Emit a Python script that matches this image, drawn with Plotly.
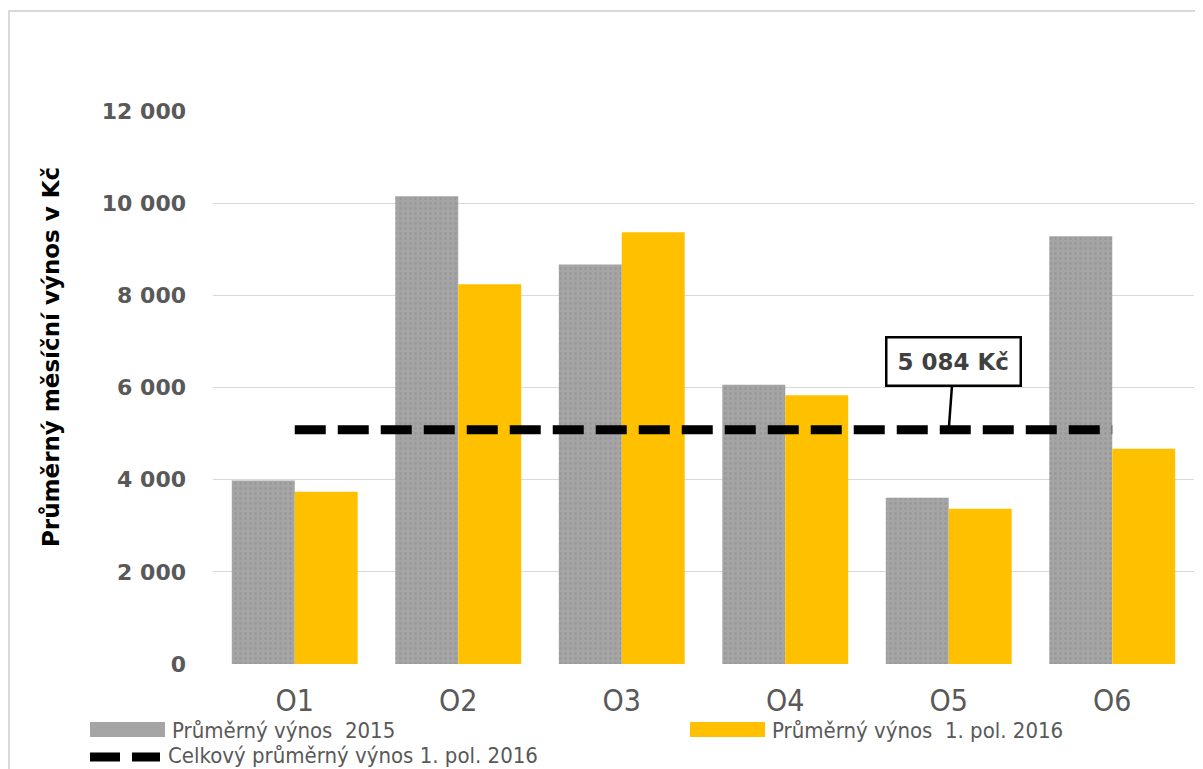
import plotly.graph_objects as go

# data
categories = ["O1", "O2", "O3", "O4", "O5", "O6"]
vynos_2015 = [3980, 10150, 8670, 6060, 3610, 9280]
vynos_2016 = [3740, 8240, 9370, 5830, 3370, 4670]
celkovy_prumer = 5084
y_ticks = [0, 2000, 4000, 6000, 8000, 10000, 12000]

name_2015 = "Průměrný výnos  2015"
name_2016 = "Průměrný výnos  1. pol. 2016"
name_avg = "Celkový průměrný výnos 1. pol. 2016"
y_title = "Průměrný měsíční výnos v Kč"

# the html page puts the figure 8px in from the top-left corner,
# so the figure is made 8px smaller and the margins shifted by the same amount
OFF = 8
PL, PR, PT, PB = 213, 1194, 111, 664   # plot area in page pixels
W, H = 1203 - OFF, 769 - OFF
ML, MT = PL - OFF, PT - OFF
MR, MB = W - (PR - OFF), H - (PB - OFF)
PW, PH = PR - PL, PB - PT

GRAY = "#a5a5a5"
YELLOW = "#ffc000"
TXT = "#595959"
NARROW = "Liberation Sans Narrow, DejaVu Sans Condensed, Arial Narrow, sans-serif"


def px(x):
    return (x - PL) / PW


def py(y):
    return (PB - y) / PH


fig = go.Figure()

fig.add_trace(go.Bar(
    x=categories, y=vynos_2015, name=name_2015,
    marker=dict(color=GRAY, line_width=0,
                pattern=dict(shape=".", fillmode="overlay", fgcolor="#8c8c8c",
                             size=5, solidity=0.25)),
))
fig.add_trace(go.Bar(
    x=categories, y=vynos_2016, name=name_2016,
    marker=dict(color=YELLOW, line_width=0),
))
fig.add_trace(go.Scatter(
    x=categories, y=[celkovy_prumer] * len(categories), name=name_avg,
    mode="lines", line=dict(color="black", width=9, dash="31px,12px"),
))

fig.update_layout(
    width=W, height=H,
    margin=dict(l=ML, r=MR, t=MT, b=MB),
    plot_bgcolor="white", paper_bgcolor="white",
    barmode="group", bargap=0.23, bargroupgap=0,
    showlegend=False,
    separators=", ",
    xaxis=dict(
        showgrid=False, showline=False, ticks="",
        tickfont=dict(family=NARROW, size=30, color=TXT),
        ticklabelstandoff=16,
    ),
    yaxis=dict(
        range=[0, 12000], tickvals=y_ticks, tickformat=",d",
        showgrid=True, gridcolor="#d9d9d9", gridwidth=1,
        zeroline=False, showline=False, ticks="",
        tickfont=dict(family="DejaVu Sans", size=22, color=TXT, weight="bold"),
        ticklabelstandoff=26,
    ),
)

# outer frame of the chart area
fig.add_shape(type="rect", xref="paper", yref="paper",
              x0=px(9), x1=px(1215), y0=py(11), y1=py(800),
              line=dict(color="#d9d9d9", width=2), fillcolor="rgba(0,0,0,0)",
              layer="below")

# y axis title
fig.add_annotation(
    text=y_title, xref="paper", yref="paper", x=px(51), y=py(357),
    xanchor="center", yanchor="middle",
    textangle=-90, showarrow=False,
    font=dict(family="DejaVu Sans", size=23, color="black", weight="bold"),
)

# label for overall average
fig.add_annotation(
    x="O5", y=celkovy_prumer, ax=5, ay=-68,
    text="5 084 Kč", showarrow=True, arrowhead=0, arrowwidth=2.5,
    arrowcolor="black", bordercolor="black", borderwidth=2.5, borderpad=10,
    bgcolor="white",
    font=dict(family="DejaVu Sans", size=23, color="#404040", weight="bold"),
)

# legend drawn by hand (wide swatches like the original)
fig.add_shape(type="rect", xref="paper", yref="paper",
              x0=px(90), x1=px(165), y0=py(737), y1=py(722),
              fillcolor=GRAY, line_width=0)
fig.add_shape(type="rect", xref="paper", yref="paper",
              x0=px(690), x1=px(765), y0=py(737), y1=py(722),
              fillcolor=YELLOW, line_width=0)
fig.add_shape(type="line", xref="paper", yref="paper",
              x0=px(90), x1=px(160), y0=py(757), y1=py(757),
              line=dict(color="black", width=9, dash="30px,12px"))

legend_items = [(name_2015, 170, 730), (name_2016, 770, 730), (name_avg, 166, 755)]
for label, lx, ly in legend_items:
    fig.add_annotation(
        text=label, xref="paper", yref="paper", x=px(lx), y=py(ly),
        xanchor="left", yanchor="middle", showarrow=False,
        font=dict(family=NARROW, size=22, color=TXT),
    )

fig.write_html("out.html")
